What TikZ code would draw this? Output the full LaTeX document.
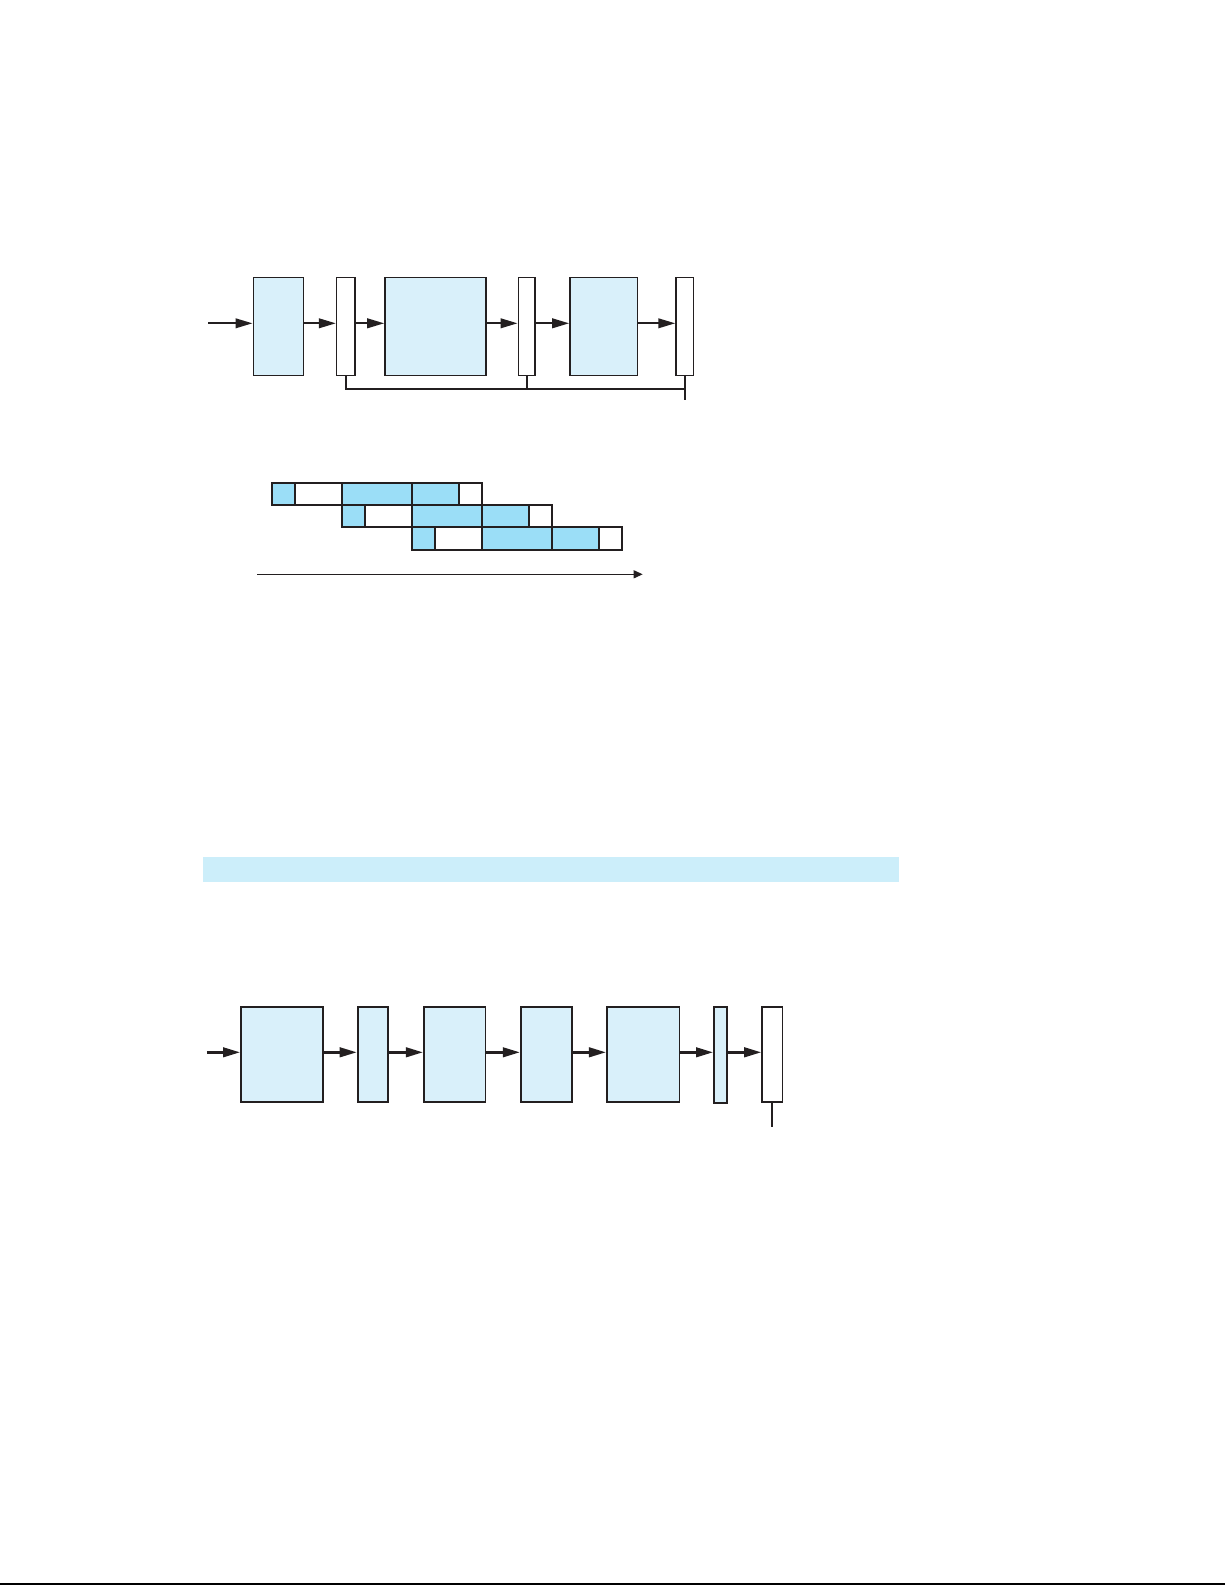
\documentclass[tikz,border=0pt]{standalone}
\usetikzlibrary{arrows.meta}
\definecolor{boxblue}{RGB}{217,240,250}
\definecolor{cellblue}{RGB}{155,222,247}
\definecolor{barblue}{RGB}{204,238,250}
\definecolor{ink}{RGB}{35,31,32}
\tikzset{
  blk/.style={draw=ink, line width=0.8pt, inner sep=0pt, fill=boxblue, minimum height=49pt},
  wblk/.style={blk, fill=white},
  bblk/.style={draw=ink, line width=0.9pt, inner sep=0pt, fill=boxblue, minimum height=47.35pt},
  wbblk/.style={bblk, fill=white},
  flow/.style={draw=ink, line width=1pt, -{Triangle[length=8.5pt,width=4.8pt]}},
  bflow/.style={draw=ink, line width=1.2pt, -{Triangle[length=8.5pt,width=4.8pt]}},
  wire/.style={draw=ink, line width=0.9pt},
  cell/.style={draw=ink, line width=0.9pt},
}
\begin{document}
\begin{tikzpicture}[x=0.5pt,y=-0.5pt]
\useasboundingbox (0,0) rectangle (1225,1585);
% ---------- top pipeline ----------
\node[blk,  minimum width=25pt]    (t1) at (278.3,326.3) {};
\node[wblk, minimum width=9.15pt]  (t2) at (345.8,326.3) {};
\node[blk,  minimum width=50.5pt]  (t3) at (435.5,326.3) {};
\node[wblk, minimum width=8.35pt]  (t4) at (526.7,326.3) {};
\node[blk,  minimum width=33.85pt] (t5) at (603.8,326.3) {};
\node[wblk, minimum width=8.65pt]  (t6) at (684.7,326.3) {};
\coordinate (tin) at (208.3,323.3);
\draw[flow] (tin) -- (tin -| t1.west);
\draw[flow] ([yshift=1.5pt]t1.east) -- ([yshift=1.5pt]t2.west);
\draw[flow] ([yshift=1.5pt]t2.east) -- ([yshift=1.5pt]t3.west);
\draw[flow] ([yshift=1.5pt]t3.east) -- ([yshift=1.5pt]t4.west);
\draw[flow] ([yshift=1.5pt]t4.east) -- ([yshift=1.5pt]t5.west);
\draw[flow] ([yshift=1.5pt]t5.east) -- ([yshift=1.5pt]t6.west);
\coordinate (busR) at (684.7,388.7);
\coordinate (busEnd) at (684.7,400);
\draw[wire] (t2.south) |- (busR);
\draw[wire] (t4.south) -- (t4.south |- busR);
\draw[wire] (t6.south) -- (busEnd);
% ---------- timing chart ----------
\foreach \r in {0,1,2}{
  \pgfmathsetmacro{\xo}{272+70*\r}
  \pgfmathsetmacro{\yt}{482.7+22.3*\r}
  \pgfmathsetmacro{\yb}{\yt+22.3}
  \filldraw[cell, fill=cellblue] (\xo,\yt) rectangle ({\xo+23.3},\yb);
  \draw[cell] ({\xo+23.3},\yt) rectangle ({\xo+70},\yb);
  \filldraw[cell, fill=cellblue] ({\xo+70},\yt) rectangle ({\xo+140},\yb);
  \filldraw[cell, fill=cellblue] ({\xo+140},\yt) rectangle ({\xo+187},\yb);
  \draw[cell] ({\xo+187},\yt) rectangle ({\xo+210},\yb);
}
\coordinate (ta) at (257.3,574.3);
\coordinate (tb) at (642.7,574.3);
\draw[draw=ink, line width=0.6pt, -{Triangle[length=4.5pt,width=4pt]}] (ta) -- (tb);
% ---------- bar ----------
\fill[barblue] (203,857) rectangle (899,882);
% ---------- bottom pipeline ----------
\node[bblk,  minimum width=41.15pt] (b1) at (282.05,1054.3) {};
\node[bblk,  minimum width=15.3pt]  (b2) at (372.9,1054.3) {};
\node[bblk,  minimum width=30.8pt]  (b3) at (454.6,1054.3) {};
\node[bblk,  minimum width=25.8pt]  (b4) at (546.5,1054.3) {};
\node[bblk,  minimum width=36.35pt] (b5) at (643.15,1054.3) {};
\node[bblk,  minimum width=6.7pt, minimum height=48pt] (b6) at (720.6,1055) {};
\node[wbblk, minimum width=10.15pt] (b7) at (772.25,1054.3) {};
\coordinate (bin) at (206.8,1052.3);
\draw[bflow] (bin) -- (bin -| b1.west);
\draw[bflow] ([yshift=1pt]b1.east) -- ([yshift=1pt]b2.west);
\draw[bflow] ([yshift=1pt]b2.east) -- ([yshift=1pt]b3.west);
\draw[bflow] ([yshift=1pt]b3.east) -- ([yshift=1pt]b4.west);
\draw[bflow] ([yshift=1pt]b4.east) -- ([yshift=1pt]b5.west);
\draw[bflow] ([yshift=1pt]b5.east) -- ([yshift=1.35pt]b6.west);
\draw[bflow] ([yshift=1.35pt]b6.east) -- ([yshift=1pt]b7.west);
\coordinate (bout) at (772.25,1127);
\draw[draw=ink, line width=1pt] (b7.south) -- (bout);
% ---------- bottom rule ----------
\coordinate (rl) at (0,1583.5);
\coordinate (rr) at (1225,1583.5);
\draw[draw=black, line width=1pt] (rl) -- (rr);
\end{tikzpicture}
\end{document}
